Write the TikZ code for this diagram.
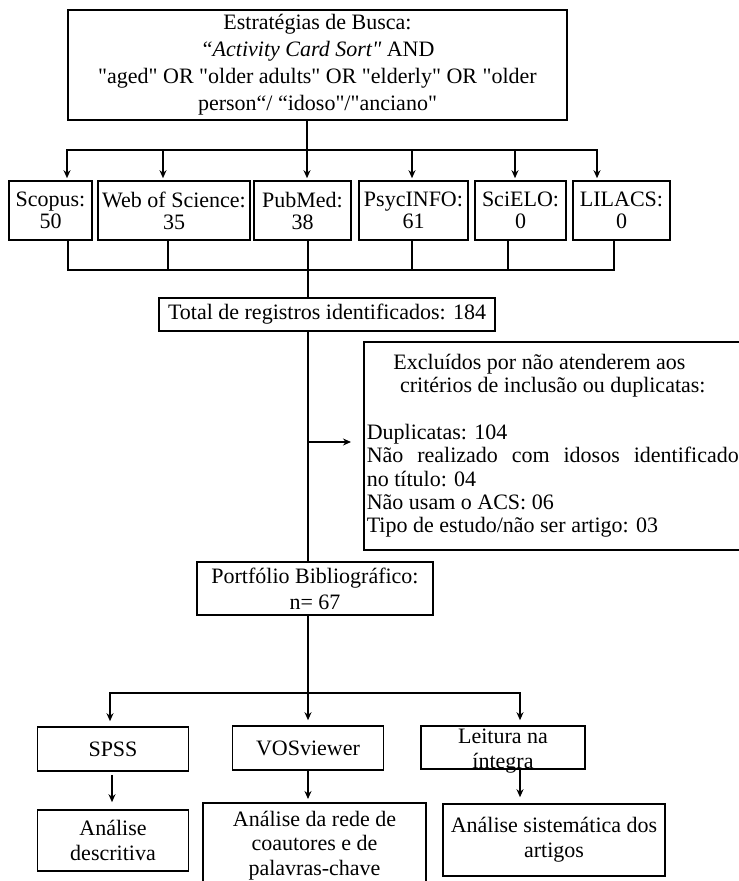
\documentclass[tikz,border=0pt]{standalone}
\usepackage{fontspec}
\setmainfont{Liberation Serif}[Ligatures=TeXOff]
\usepackage{tikz}
\usetikzlibrary{arrows.meta}

\begin{document}
\begin{tikzpicture}[x=1pt,y=-1pt,
        box/.style={draw,line width=1.6pt,align=center,inner sep=2pt,font=\fontsize{22}{22}\selectfont},
        line/.style={line width=1.6pt},
        arr/.style={-{Stealth[length=8pt,width=7pt]},line width=1.6pt}]
        \useasboundingbox (0,0) rectangle (739,881);
        \clip (0,0) rectangle (739,881);

        % busca
        \node[box,minimum width=499pt,minimum height=110pt,font=\fontsize{22}{27}\selectfont] (busca) at (317.5,65)
            {Estratégias de Busca:\\ \textit{“Activity Card Sort"} AND\\ "aged" OR "older adults" OR "elderly" OR "older\\ person“/ “idoso"/"anciano"};

        % bases
        \node[box,minimum width=83pt,minimum height=59pt] (scopus) at (50.5,210.5) {Scopus:\\50};
        \node[box,minimum width=152pt,minimum height=59pt] (wos) at (174,210.5) {Web of Science:\\35};
        \node[box,minimum width=97pt,minimum height=59pt] (pubmed) at (302.5,210.5) {PubMed:\\38};
        \node[box,minimum width=109pt,minimum height=59pt] (psycinfo) at (413.5,210.5) {PsycINFO:\\61};
        \node[box,minimum width=91pt,minimum height=59pt] (scielo) at (520.5,210.5) {SciELO:\\0};
        \node[box,minimum width=97pt,minimum height=59pt] (lilacs) at (621.5,210.5) {LILACS:\\0};

        \node[box,minimum width=336pt,minimum height=33pt] (total) at (327,314.5) {Total de registros identificados: 184};

        \node[box,anchor=north west,align=justify,text width=372pt,inner xsep=3pt,minimum height=208pt,
            font=\fontsize{22}{23.3}\selectfont] (excl) at (363,341)
            {\tolerance=10000
            {\centering Excluídos por não atenderem aos\newline critérios de inclusão ou duplicatas:\par}
            \vspace{23.3pt}
            Duplicatas: 104\par
            Não realizado com idosos identificado\linebreak no título: 04\par
            Não usam o ACS: 06\par
            Tipo de estudo/não ser artigo: 03\par};

        \node[box,minimum width=236pt,minimum height=53pt,font=\fontsize{22}{26}\selectfont] (portfolio) at (315,588.5)
            {Portfólio Bibliográfico:\\n= 67};

        % analises
        \node[box,minimum width=151pt,minimum height=44pt] (spss) at (113,749) {SPSS};
        \node[box,minimum width=151pt,minimum height=44pt] (vos) at (308,748) {VOSviewer};
        \node[box,minimum width=164pt,minimum height=43pt,inner sep=0pt,font=\fontsize{22}{25}\selectfont] (leitura) at (503,747.5)
            {\raisebox{-9pt}[0pt][0pt]{\begin{tabular}{@{}c@{}}Leitura na\\íntegra\end{tabular}}};

        \node[box,minimum width=151pt,minimum height=61pt,font=\fontsize{22}{25}\selectfont] (desc) at (113,840.5) {Análise\\descritiva};
        \node[box,anchor=north,minimum width=223pt,inner ysep=8pt,font=\fontsize{22}{24.5}\selectfont] (rede) at (314.5,802)
            {Análise da rede de\\coautores e de\\palavras-chave};
        \node[box,minimum width=222pt,minimum height=72pt,font=\fontsize{22}{25}\selectfont] (sist) at (554,840)
            {Análise sistemática dos\\artigos};

        % ligacoes
        \coordinate (split) at (307,150);
        \draw[line] (busca.south -| split) -- (split);
        \foreach \n/\dx in {scopus/16.5,wos/-11,pubmed/4.5,psycinfo/-1.5,scielo/-5.5,lilacs/-24.5}
            \draw[arr,shorten >=2pt] (split) -| ([xshift=\dx pt]\n.north);

        \coordinate (merge) at (308,270);
        \foreach \n/\dx in {scopus/17.5,wos/-6,pubmed/5.5,psycinfo/-1.5,scielo/-12.5,lilacs/-7.5}
            \draw[line] ([xshift=\dx pt]\n.south) |- (merge);
        \draw[line] (merge) -- (merge |- total.north);
        \draw[line] (merge |- total.south) -- (merge |- portfolio.north);

        \coordinate (side) at (308,442);
        \draw[arr,shorten >=12pt] (side) -- (excl.west |- side);

        \coordinate (fork) at (308,693);
        \draw[line] (fork |- portfolio.south) -- (fork);
        \draw[arr,shorten >=5pt] (fork) -| ([xshift=-3pt]spss.north);
        \draw[arr,shorten >=5pt] (fork) -- (vos.north);
        \draw[arr,shorten >=5pt] (fork) -| ([xshift=17pt]leitura.north);

        \draw[arr,shorten <=3pt,shorten >=7pt] ([xshift=-1pt]spss.south) -- ([xshift=-1pt]desc.north);
        \draw[arr,shorten >=3pt] (vos.south) -- (vos.south |- rede.north);
        \draw[arr,shorten >=6pt] ([xshift=17pt]leitura.south) -- ([xshift=17pt]leitura.south |- sist.north);
\end{tikzpicture}
\end{document}
